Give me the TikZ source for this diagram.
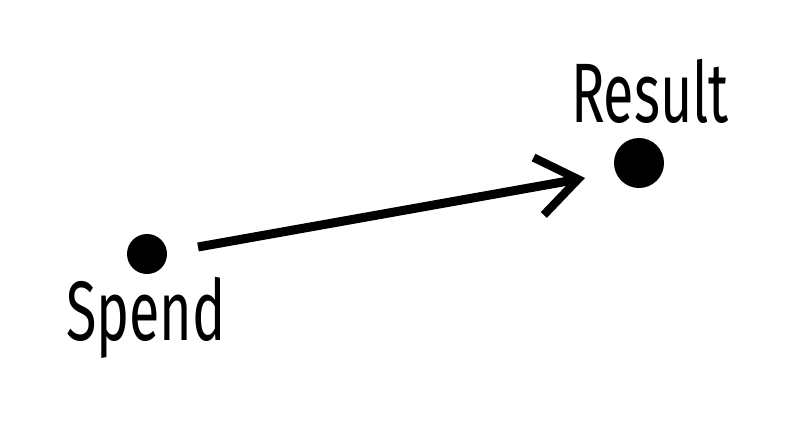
\documentclass[tikz,border=0pt]{standalone}
\usepackage{fontspec}
\setmainfont{Fira Sans}
\usetikzlibrary{arrows.meta}
\begin{document}
\begin{tikzpicture}[x=0.03cm, y=-0.03cm]
    \tikzstyle{dot}=[circle,fill=black,inner sep=0pt]
    \tikzstyle{word}=[anchor=base, inner sep=0pt, font=\fontsize{72}{78}\selectfont, xscale=0.66]
    \tikzstyle{link}=[line width=0.27cm, -{Straight Barb[length=1.2cm, width=1.75cm, line width=0.25cm]}]
    \useasboundingbox (0,0) rectangle (797,422);

    % 两个点
    \node[dot, minimum size=1.2cm] (spend) at (147,254) {};
    \node[dot, minimum size=1.5cm] (result) at (639,163) {};

    % 标签
    \node[word] (spendlabel) at (146,340) {Spend};
    \node[word] (resultlabel) at (650,122) {Result};

    % 箭头
    \coordinate (start) at (198,247);
    \coordinate (tip) at (585,178);
    \draw[link] (start) -- (tip);
\end{tikzpicture}
\end{document}
